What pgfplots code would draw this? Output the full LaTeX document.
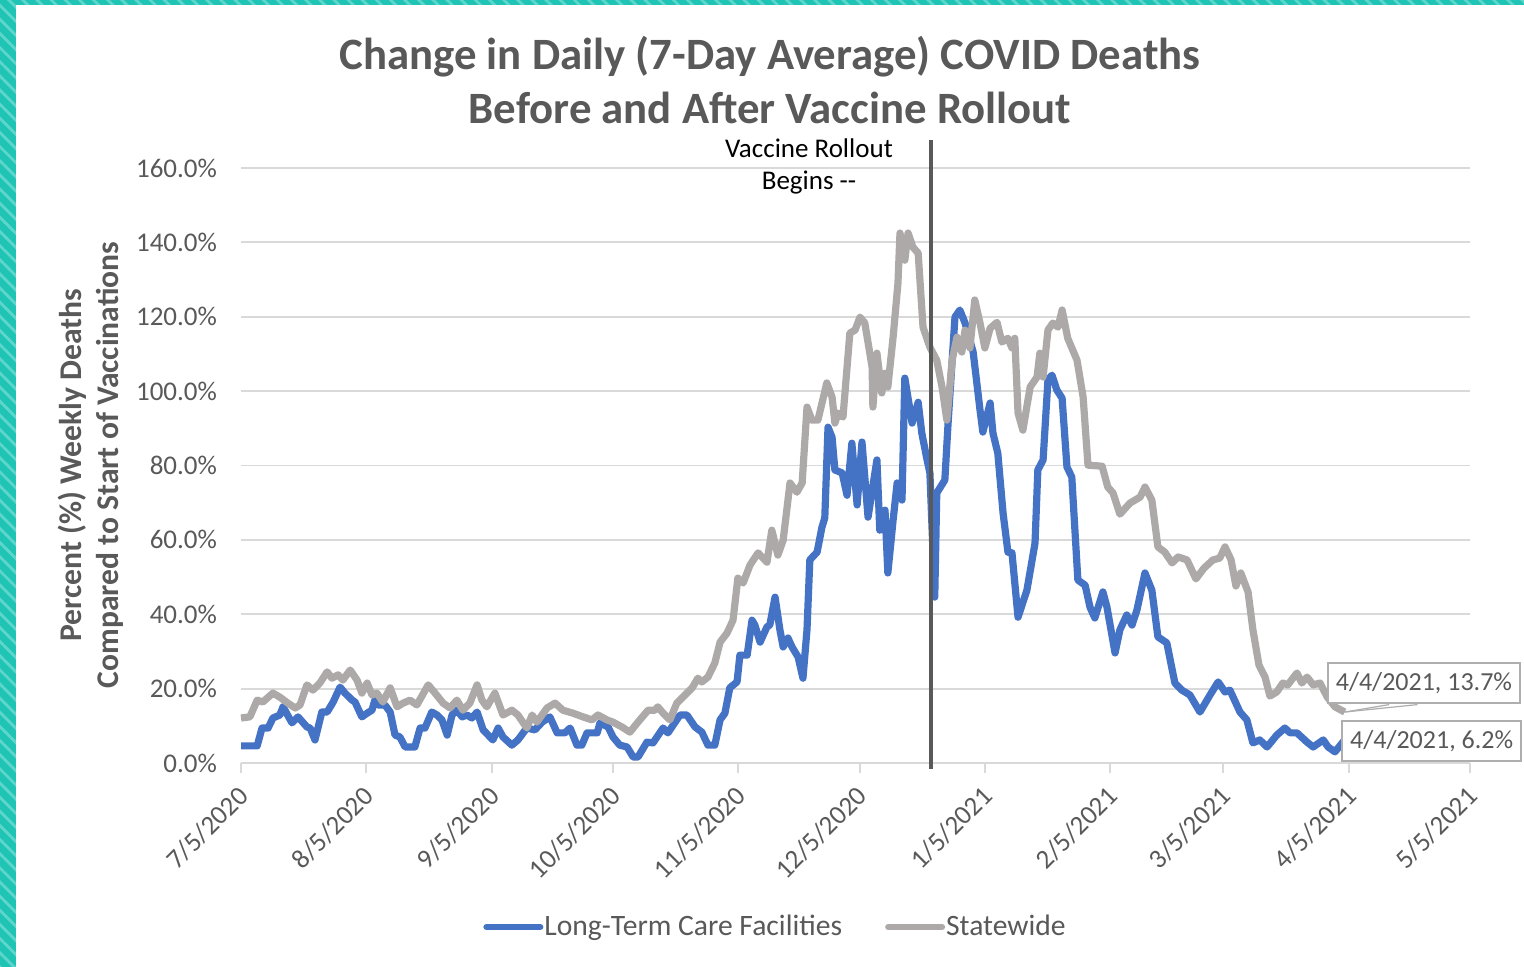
\documentclass[border=0pt]{standalone}
\usepackage{pgfplots}
\pgfplotsset{compat=1.18}
\usepackage{fontspec}
\setmainfont{Carlito}
\usetikzlibrary{patterns.meta}
\definecolor{ltc}{HTML}{4472C4}
\definecolor{state}{HTML}{ADA9A9}
\definecolor{txt}{HTML}{595959}
\definecolor{grid}{HTML}{D9D9D9}
\definecolor{tealA}{HTML}{1FC4B5}
\definecolor{tealB}{HTML}{5ED6CB}
\begin{document}
\begin{tikzpicture}
\useasboundingbox (0,0) rectangle (762pt,483.5pt);
\fill[tealA] (0,0) rectangle (762pt,483.5pt);
\fill[pattern={Lines[angle=-45,distance=5pt,line width=1.4pt]},pattern color=tealB] (0,0) rectangle (762pt,483.5pt);
\fill[white] (8pt,0) rectangle (762pt,481pt);
\node[font=\bfseries\fontsize{22.4}{26}\selectfont, text=txt] at (385pt,455pt) {Change in Daily (7-Day Average) COVID Deaths};
\node[font=\bfseries\fontsize{22.4}{26}\selectfont, text=txt] at (385pt,429.5pt) {Before and After Vaccine Rollout};
\node[font=\bfseries\fontsize{15.8}{18}\selectfont, text=txt, rotate=90] at (36pt,251pt) {Percent (\%) Weekly Deaths};
\node[font=\bfseries\fontsize{15.8}{18}\selectfont, text=txt, rotate=90] at (55pt,251pt) {Compared to Start of Vaccinations};
\begin{axis}[
  at={(120.5pt,102pt)}, anchor=south west,
  scale only axis, width=614.5pt, height=297.5pt,
  xmin=0, xmax=304, ymin=0, ymax=160,
  clip=false,
  axis x line*=bottom, axis y line*=left,
  y axis line style={draw=none},
  x axis line style={draw=grid, line width=1pt},
  xtick={0,31,62,92,123,153,184,215,243,274,304},
  xticklabels={7/5/2020,8/5/2020,9/5/2020,10/5/2020,11/5/2020,12/5/2020,1/5/2021,2/5/2021,3/5/2021,4/5/2021,5/5/2021},
  xticklabel style={rotate=45, anchor=north east, font=\fontsize{13.5}{15}\selectfont, text=txt, xshift=-2pt, yshift=1pt},
  x tick style={draw=grid, line width=1pt},
  tick align=outside, major tick length=5pt,
  ytick={0,20,40,60,80,100,120,140,160},
  yticklabels={0.0\%,20.0\%,40.0\%,60.0\%,80.0\%,100.0\%,120.0\%,140.0\%,160.0\%},
  yticklabel style={font=\fontsize{13.5}{15}\selectfont, text=txt, xshift=-3.5pt},
  y tick style={draw=none},
  ymajorgrids, grid style={draw=grid, line width=0.9pt},
  legend style={draw=none, fill=none, at={(0.4345,-0.2756)}, anchor=center,
    font=\fontsize{14.8}{17}\selectfont, text=txt, legend columns=2,
    nodes={inner xsep=0.5pt},
    /tikz/every even column/.append style={column sep=21pt}},
  legend image code/.code={\draw[#1, line width=3pt, line cap=round] (0pt,0pt) -- (27pt,0pt);},
]
\addplot[ltc, line width=3.6pt, line join=round] coordinates {
(0,4.6)(4.0,4.6)(5.2,9.4)(6.7,9.4)(7.9,12.1)(9.6,12.9)(10.4,15.1)(12.6,10.8)(14.1,12.4)(16.3,9.7)(17.1,9.4)(18.3,6.2)(20.0,13.7)(21.3,13.7)(22.8,16.4)(24.5,20.4)(25.7,18.8)(27.5,16.9)(28.2,16.4)(29.9,12.4)(31.2,13.4)(32.4,14.2)(33.1,16.9)(33.9,15.6)(35.6,15.6)(36.9,13.7)(38.1,7.5)(39.3,7.0)(40.6,4.3)(43.0,4.3)(44.3,9.4)(45.5,9.4)(47.2,13.7)(48.5,12.9)(49.7,11.6)(51.0,7.5)(52.2,12.9)(53.4,14.2)(54.7,12.4)(55.9,12.9)(57.1,12.1)(58.4,13.7)(59.9,8.9)(62.3,6.2)(63.6,9.4)(64.8,7.0)(67.0,4.8)(68.5,6.2)(70.7,9.4)(72.7,8.9)(74.5,11.0)(76.4,12.4)(78.2,8.1)(80.1,8.1)(81.4,9.4)(83.1,4.8)(84.3,4.8)(85.6,8.1)(88.1,8.1)(88.8,10.8)(90.8,9.7)(92.0,7.0)(93.7,4.8)(95.5,4.3)(97.0,1.6)(98.2,1.6)(100.4,5.6)(101.9,5.4)(104.4,9.4)(105.6,8.1)(106.9,10.2)(108.6,12.9)(110.3,12.9)(112.3,9.7)(114.0,8.3)(115.5,4.8)(117.2,4.8)(118.5,11.6)(119.7,13.4)(120.9,20.2)(122.7,21.8)(123.4,29.0)(125.2,29.0)(126.4,38.4)(127.1,37.1)(128.4,32.5)(130.1,36.6)(130.8,37.1)(132.1,44.6)(133.3,35.8)(134.1,31.2)(135.3,33.6)(136.3,31.2)(137.8,28.5)(139.0,22.8)(140.0,35.8)(140.7,54.6)(142.5,56.7)(143.7,63.4)(144.4,65.9)(145.2,90.3)(146.2,87.6)(146.9,78.8)(148.7,78.0)(149.9,72.0)(151.1,86.0)(152.4,69.4)(153.6,86.3)(155.1,66.1)(157.3,81.5)(158.0,62.6)(159.3,68.0)(160.0,51.1)(161.3,65.3)(162.3,75.3)(163.5,70.7)(164.2,103.5)(166.0,91.4)(167.5,97.0)(168.4,88.7)(169.7,81.5)(170.4,78.0)(171.6,44.6)(172.1,72.6)(174.1,76.1)(174.9,91.4)(176.6,119.9)(177.8,121.8)(179.1,118.3)(181.1,110.5)(182.8,94.9)(183.5,89.0)(185.3,96.8)(186.0,88.7)(187.2,83.3)(188.5,67.2)(189.7,56.7)(190.7,56.5)(192.2,39.2)(194.4,46.5)(196.4,59.1)(197.1,78.8)(198.4,81.5)(199.6,103.0)(200.6,104.3)(201.8,100.3)(203.1,98.1)(204.3,79.6)(205.5,76.9)(207.0,49.2)(208.8,47.8)(210.0,41.9)(211.2,39.0)(213.2,46.0)(214.2,41.9)(216.2,29.6)(217.4,35.8)(219.1,39.8)(220.4,37.1)(221.6,41.1)(223.6,51.1)(225.3,46.5)(226.8,33.9)(229.0,32.3)(231.0,21.5)(232.7,19.6)(234.7,18.3)(237.2,13.7)(239.7,18.3)(241.7,21.8)(243.4,19.1)(244.6,19.6)(247.1,13.7)(248.8,11.6)(250.3,5.4)(252.0,6.2)(253.8,4.3)(256.2,7.5)(258.2,9.4)(259.5,8.1)(261.2,8.1)(263.7,5.6)(265.2,4.3)(267.7,6.2)(268.9,4.3)(270.6,3.0)(273,6.2)
};
\addlegendentry{Long-Term Care Facilities}
\addplot[state, line width=3.6pt, line join=round] coordinates {
(0,12.1)(2.2,12.4)(4.0,16.9)(5.4,16.4)(7.9,18.8)(9.6,17.7)(11.6,16.1)(13.4,14.8)(14.6,15.6)(16.3,21.0)(17.8,19.6)(19.5,21.5)(21.3,24.5)(22.5,22.8)(24.0,23.7)(25.2,22.3)(27.0,25.0)(28.7,22.3)(29.9,18.8)(31.2,21.5)(32.4,18.3)(33.6,18.8)(35.1,16.4)(36.9,20.2)(38.6,15.1)(40.1,16.1)(41.8,16.9)(43.5,15.6)(46.3,21.0)(48.0,18.8)(50.0,16.1)(51.7,14.8)(53.4,16.9)(54.9,14.2)(56.6,16.1)(58.4,21.0)(59.6,16.9)(60.8,15.1)(62.8,18.8)(64.8,12.9)(67.0,14.2)(68.5,12.9)(70.7,9.4)(72.0,12.9)(73.2,11.0)(75.7,14.8)(77.7,16.1)(79.6,14.2)(82.1,13.4)(84.6,12.4)(86.8,11.6)(88.3,12.9)(90.5,11.6)(92.0,11.0)(94.2,9.7)(96.2,8.3)(98.2,11.0)(100.7,14.2)(102.4,14.2)(103.1,15.1)(104.4,13.4)(106.1,11.6)(107.8,16.1)(109.3,17.7)(111.6,20.2)(113.0,22.8)(114.0,21.8)(115.5,23.1)(117.2,26.9)(118.5,32.5)(120.2,34.9)(121.7,38.4)(122.9,49.7)(124.2,48.4)(125.9,53.2)(127.9,56.5)(130.1,54.0)(131.3,62.6)(132.8,55.9)(134.1,59.9)(135.8,75.3)(137.5,72.8)(138.8,75.3)(140.0,95.7)(141.2,92.2)(142.7,92.2)(144.9,102.2)(146.2,98.4)(146.9,91.4)(147.7,94.1)(148.9,93.0)(150.6,115.6)(151.9,116.4)(153.1,119.9)(154.3,118.3)(156.1,106.5)(156.3,95.7)(157.3,110.2)(158.5,99.5)(159.3,104.8)(160.0,101.1)(161.3,114.5)(162.5,129.0)(163.0,142.5)(164.2,135.2)(165.0,142.5)(166.2,138.7)(167.5,137.1)(168.7,117.2)(170.4,111.8)(172.1,108.3)(173.4,101.1)(174.6,92.2)(175.9,108.3)(177.1,114.5)(178.3,110.5)(179.1,116.4)(180.3,111.6)(181.5,124.5)(182.8,118.3)(184.0,111.6)(185.3,116.9)(187.0,118.5)(188.2,113.2)(189.7,114.2)(190.7,111.6)(191.4,114.2)(192.2,94.1)(193.4,89.5)(195.2,101.1)(196.9,103.8)(197.6,110.2)(198.4,103.8)(199.6,116.4)(200.8,118.3)(202.1,117.2)(203.1,121.8)(204.5,114.2)(206.8,108.3)(208.3,98.4)(209.5,80.1)(213.0,79.8)(214.4,74.2)(215.7,72.6)(217.4,66.9)(219.9,69.9)(222.4,71.5)(223.6,74.2)(225.3,70.7)(226.8,58.1)(228.5,56.7)(230.3,53.8)(231.8,55.4)(234.0,54.6)(236.2,49.5)(238.2,52.4)(240.4,54.6)(242.1,55.1)(243.4,58.1)(244.9,54.6)(246.1,47.6)(247.3,51.1)(249.1,46.0)(250.3,35.8)(251.8,26.3)(253.3,23.1)(254.5,18.0)(256.2,19.1)(257.7,21.5)(258.9,21.0)(261.2,24.2)(262.4,21.5)(263.7,23.1)(265.2,21.0)(266.9,21.5)(268.7,17.7)(270.6,15.1)(273,13.7)
};
\addlegendentry{Statewide}
\addplot[draw=txt, line width=2pt, forget plot] coordinates {(170.7,-1.5) (170.7,167.5)};
\node[font=\fontsize{13.5}{16}\selectfont, align=center, text=black] at (axis cs:140.5,160.4) {Vaccine Rollout\\Begins -{}-};
\draw[draw=grid!80!black, line width=0.6pt] (axis cs:273,13.7) -- (axis cs:291,15.7);
\draw[draw=grid!80!black, line width=0.6pt] (axis cs:273,13.7) -- (axis cs:284,15.7);
\node[draw=grid!80!black, fill=white, line width=0.8pt, inner sep=4pt, font=\fontsize{13}{15}\selectfont, text=txt, minimum height=20pt] at (axis cs:292.6,21.5) {4/4/2021, 13.7\%};
\node[draw=grid!80!black, fill=white, line width=0.8pt, inner sep=4pt, font=\fontsize{13}{15}\selectfont, text=txt, minimum height=20pt] at (axis cs:294.5,5.9) {4/4/2021, 6.2\%};
\end{axis}
\end{tikzpicture}
\end{document}
